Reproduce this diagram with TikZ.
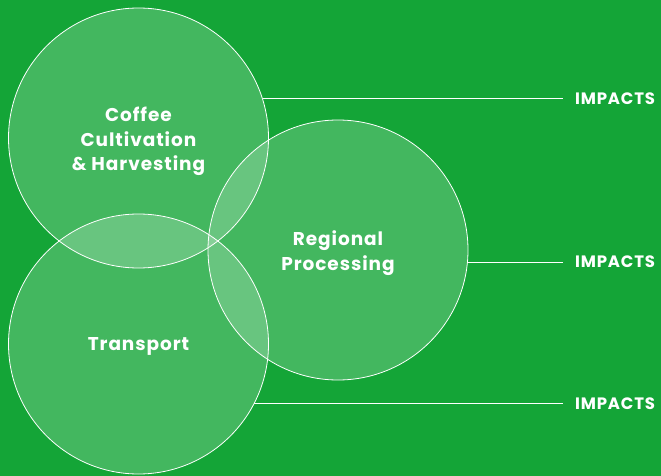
\documentclass[tikz,border=0pt]{standalone}
\usepackage{fontspec}
\setmainfont{Poppins}[LetterSpace=5]
\begin{document}
\begin{tikzpicture}[x=1pt,y=-1pt,
  circ/.style={draw=white,line width=0.8pt,fill=white,fill opacity=0.2},
  lbl/.style={text=white,font=\bfseries\fontsize{18.5}{24.5}\selectfont,align=center},
  imp/.style={text=white,font=\bfseries\fontsize{16.5}{18}\selectfont,anchor=west,inner sep=0pt},
  link/.style={draw=white,line width=0.8pt}]
\fill[fill={rgb,255:red,20;green,165;blue,55}] (0,0) rectangle (661,476);
\useasboundingbox (0,0) rectangle (661,476);
\coordinate (c1) at (138.5,138);
\coordinate (c2) at (338,250);
\coordinate (c3) at (138.5,344);
% connectors
\coordinate (e1) at (263,98);
\coordinate (e2) at (468,262);
\coordinate (e3) at (254,403);
\node[imp] (i1) at (575,99) {IMPACTS};
\node[imp] (i2) at (575,262) {IMPACTS};
\node[imp] (i3) at (575,404) {IMPACTS};
\coordinate (f1) at (563,98);
\coordinate (f2) at (563,262);
\coordinate (f3) at (563,403);
\draw[link] (e1) -- (f1);
\draw[link] (e2) -- (f2);
\draw[link] (e3) -- (f3);
\draw[circ] (c1) circle[radius=130];
\draw[circ] (c2) circle[radius=130];
\draw[circ] (c3) circle[radius=130];
\node[lbl] (t1) at (138.5,141.5) {Coffee\\Cultivation\\\& Harvesting};
\node[lbl] (t2) at (338,253) {Regional\\Processing};
\node[lbl] (t3) at (138.5,346.5) {Transport};
\end{tikzpicture}
\end{document}
